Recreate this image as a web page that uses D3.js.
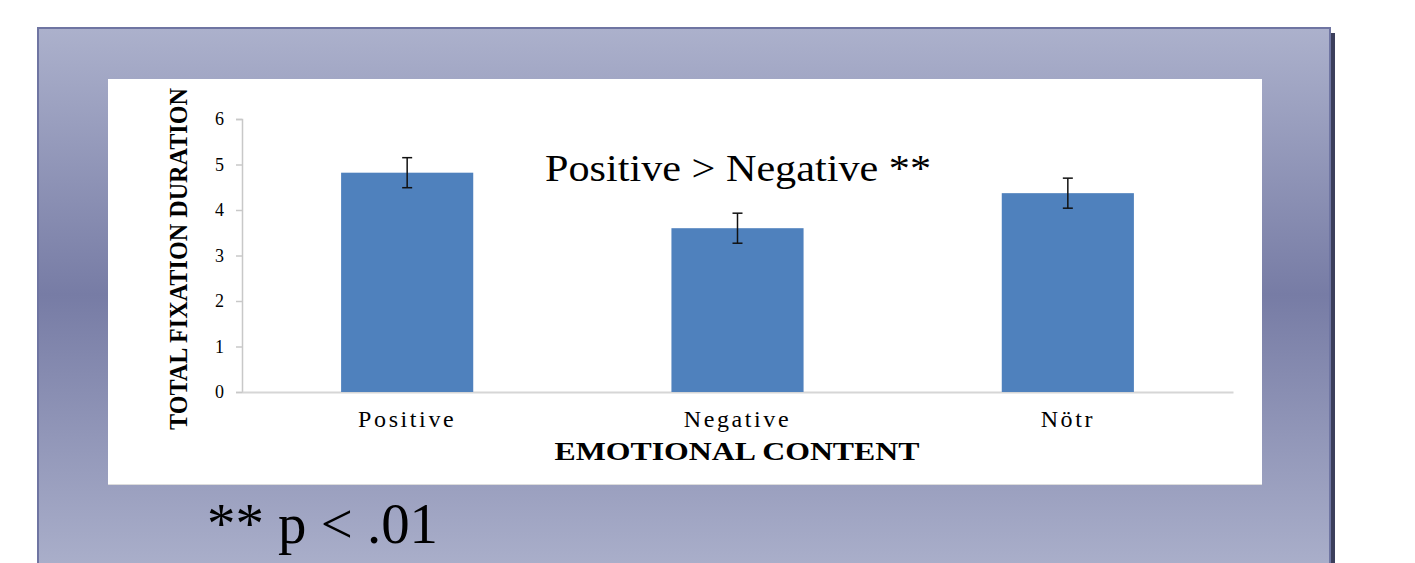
<!DOCTYPE html>
<html>
<head>
  <meta charset="utf-8">
  <script src="https://d3js.org/d3.v7.min.js"></script>
  <style>
    body { margin: 0; background: #fff; }
    svg text { font-family: "Liberation Serif", "Times New Roman", serif; fill: #000; }
  </style>
</head>
<body>
  <svg id="root" width="1415" height="563"></svg>
  <script>
    // data
    var categories = ['Positive', 'Negative', 'Nötr'];
    var means = [4.82, 3.60, 4.37];
    var errors = [0.33, 0.33, 0.33];
    var yTicks = [0, 1, 2, 3, 4, 5, 6];

    var svg = d3.select('#root');

    // slide-like panel with vertical gradient
    var defs = svg.append('defs');
    var grad = defs.append('linearGradient')
      .attr('id', 'panelGrad')
      .attr('x1', 0).attr('y1', 0).attr('x2', 0).attr('y2', 1);
    grad.append('stop').attr('offset', '0%').attr('stop-color', '#acb1cc');
    grad.append('stop').attr('offset', '49%').attr('stop-color', '#777ca5');
    grad.append('stop').attr('offset', '100%').attr('stop-color', '#abb0cb');

    // shadow on the right
    svg.append('rect')
      .attr('x', 1330).attr('y', 33)
      .attr('width', 5).attr('height', 540)
      .attr('fill', '#3c3f5c');

    svg.append('rect')
      .attr('x', 38).attr('y', 28)
      .attr('width', 1292).attr('height', 545)
      .attr('fill', 'url(#panelGrad)')
      .attr('stroke', '#6f75a2')
      .attr('stroke-width', 2);

    // white chart area
    svg.append('rect')
      .attr('x', 108).attr('y', 80)
      .attr('width', 1154).attr('height', 405)
      .attr('fill', '#dcdcdc');
    svg.append('rect')
      .attr('x', 108).attr('y', 79)
      .attr('width', 1154).attr('height', 405)
      .attr('fill', '#fff');

    var x = d3.scaleBand()
      .domain(categories)
      .range([242, 1233])
      .paddingInner(0.6)
      .paddingOuter(0.3);

    var y = d3.scaleLinear()
      .domain([0, 6])
      .range([392, 119]);

    // y axis
    var yAxis = svg.append('g')
      .attr('transform', 'translate(242,0)')
      .call(d3.axisLeft(y).tickValues(yTicks).tickSize(6).tickPadding(12).tickFormat(d3.format('d')));
    yAxis.select('.domain').attr('stroke', '#c8c8c8').attr('stroke-width', 1.5);
    yAxis.selectAll('.tick line').attr('stroke', '#c8c8c8').attr('stroke-width', 1.5);
    yAxis.selectAll('.tick text')
      .style('font-size', '18px')
      .attr('fill', '#000');

    // x axis
    var xAxis = svg.append('g')
      .attr('transform', 'translate(0,392)')
      .call(d3.axisBottom(x).tickSize(0).tickPadding(18));
    xAxis.select('.domain').attr('stroke', '#d6d6d6').attr('stroke-width', 2);
    xAxis.selectAll('.tick text')
      .style('font-size', '24px')
      .style('letter-spacing', '2.6px')
      .attr('fill', '#000');

    // bars
    svg.selectAll('.bar')
      .data(categories)
      .enter()
      .append('rect')
      .attr('class', 'bar')
      .attr('x', function (d) { return x(d); })
      .attr('width', x.bandwidth())
      .attr('y', function (d, i) { return y(means[i]); })
      .attr('height', function (d, i) { return y(0) - y(means[i]); })
      .attr('fill', '#4f81bd');

    // error bars
    var eb = svg.selectAll('.err')
      .data(categories)
      .enter()
      .append('g')
      .attr('class', 'err')
      .attr('stroke', '#111')
      .attr('stroke-width', 1.5);
    eb.append('line')
      .attr('x1', function (d) { return x(d) + x.bandwidth() / 2; })
      .attr('x2', function (d) { return x(d) + x.bandwidth() / 2; })
      .attr('y1', function (d, i) { return y(means[i] + errors[i]); })
      .attr('y2', function (d, i) { return y(means[i] - errors[i]); });
    eb.append('line')
      .attr('x1', function (d) { return x(d) + x.bandwidth() / 2 - 5; })
      .attr('x2', function (d) { return x(d) + x.bandwidth() / 2 + 5; })
      .attr('y1', function (d, i) { return y(means[i] + errors[i]); })
      .attr('y2', function (d, i) { return y(means[i] + errors[i]); });
    eb.append('line')
      .attr('x1', function (d) { return x(d) + x.bandwidth() / 2 - 5; })
      .attr('x2', function (d) { return x(d) + x.bandwidth() / 2 + 5; })
      .attr('y1', function (d, i) { return y(means[i] - errors[i]); })
      .attr('y2', function (d, i) { return y(means[i] - errors[i]); });

    // axis titles
    svg.append('text')
      .attr('transform', 'translate(187,259) rotate(-90)')
      .attr('text-anchor', 'middle')
      .attr('textLength', 342)
      .attr('lengthAdjust', 'spacingAndGlyphs')
      .style('font-size', '26px')
      .style('font-weight', 'bold')
      .text('TOTAL FIXATION DURATION');

    svg.append('text')
      .attr('x', 737).attr('y', 460)
      .attr('text-anchor', 'middle')
      .attr('textLength', 365)
      .attr('lengthAdjust', 'spacingAndGlyphs')
      .style('font-size', '25px')
      .style('font-weight', 'bold')
      .text('EMOTIONAL CONTENT');

    // annotations
    svg.append('text')
      .attr('x', 545).attr('y', 181)
      .attr('textLength', 386)
      .attr('lengthAdjust', 'spacingAndGlyphs')
      .style('font-size', '38px')
      .text('Positive > Negative **');

    svg.append('text')
      .attr('x', 207).attr('y', 543)
      .attr('textLength', 231)
      .attr('lengthAdjust', 'spacingAndGlyphs')
      .style('font-size', '56px')
      .text('** p < .01');
  </script>
</body>
</html>
